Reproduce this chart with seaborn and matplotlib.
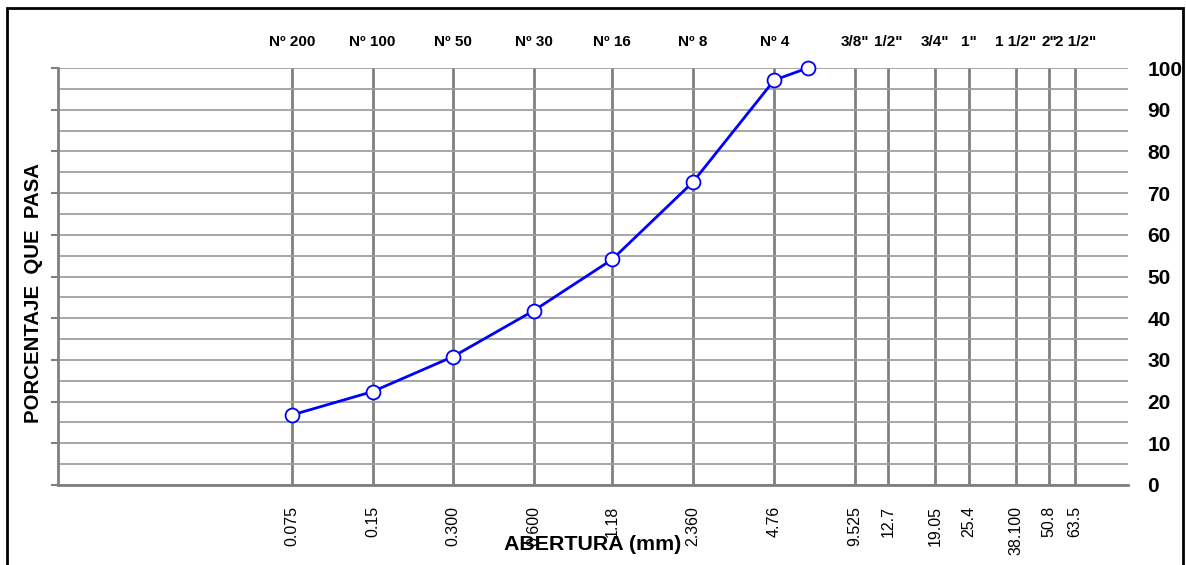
import matplotlib
matplotlib.use("Agg")
import matplotlib.pyplot as plt
import matplotlib.patches as mpatches
from matplotlib.ticker import FixedLocator, NullFormatter
import seaborn as sns
import pandas as pd

# ---- data ----
abertura_mm = [0.075, 0.15, 0.300, 0.600, 1.18, 2.360, 4.76, 6.35]
porcentaje_pasa = [16.8, 22.4, 30.8, 41.8, 54.1, 72.6, 97.1, 100.0]

tamiz_mm = [0.075, 0.15, 0.300, 0.600, 1.18, 2.360, 4.76,
            9.525, 12.7, 19.05, 25.4, 38.1, 50.8, 63.5]
tamiz_mm_labels = ["0.075", "0.15", "0.300", "0.600", "1.18", "2.360", "4.76",
                   "9.525", "12.7", "19.05", "25.4", "38.100", "50.8", "63.5"]
tamiz_nombres = ["Nº 200", "Nº 100", "Nº 50", "Nº 30", "Nº 16", "Nº 8", "Nº 4",
                 '3/8"', '1/2"', '3/4"', '1"', '1 1/2"', '2"', '2 1/2"']
y_ticks = [0, 10, 20, 30, 40, 50, 60, 70, 80, 90, 100]
y_minor = [5, 15, 25, 35, 45, 55, 65, 75, 85, 95]

df = pd.DataFrame({"abertura": abertura_mm, "pasa": porcentaje_pasa})

sns.set_style("white")
plt.rcParams["font.family"] = ["Liberation Sans", "DejaVu Sans"]
plt.rcParams["text.color"] = "black"
plt.rcParams["axes.labelcolor"] = "black"
plt.rcParams["xtick.labelcolor"] = "black"
plt.rcParams["ytick.labelcolor"] = "black"

W, H = 1186, 565
fig = plt.figure(figsize=(W / 100, H / 100), dpi=100)
L, R, T, B = 58, 1128, 68, 485
ax = fig.add_axes([L / W, 1 - B / H, (R - L) / W, (B - T) / H])

ax.set_xscale("log")
ax.set_xlim(0.01, 100)
ax.set_ylim(0, 100)

# grids
ax.xaxis.set_major_locator(FixedLocator(tamiz_mm))
ax.xaxis.set_minor_locator(FixedLocator([]))
ax.set_xticks(tamiz_mm, tamiz_mm_labels, rotation=90)
ax.xaxis.set_minor_formatter(NullFormatter())
ax.yaxis.set_major_locator(FixedLocator(y_ticks))
ax.yaxis.set_minor_locator(FixedLocator(y_minor))

ax.grid(True, axis="x", which="major", color="#808080", lw=2.0, zorder=1)
ax.grid(True, axis="y", which="both", color="#a0a0a0", lw=1.3, zorder=1)
ax.set_axisbelow(True)

sns.lineplot(data=df, x="abertura", y="pasa", ax=ax, color="#0000FF", lw=2.0,
             marker="o", markersize=10, markerfacecolor="white",
             markeredgecolor="#0000FF", markeredgewidth=1.3, zorder=5,
             clip_on=False)

# ticks
ax.tick_params(axis="x", which="both", length=0, pad=15, labelsize=11.5,
               labelcolor="black")
ax.tick_params(axis="y", which="major", left=True, right=False, length=5,
               width=1.5, color="#808080", labelleft=False, labelright=True,
               pad=9, labelsize=15, labelcolor="black")
ax.tick_params(axis="y", which="minor", left=False, right=False, length=0)
for lab in ax.get_yticklabels():
    lab.set_fontweight("bold")

for s in ["top", "right"]:
    ax.spines[s].set_visible(False)
for s in ["left", "bottom"]:
    ax.spines[s].set_color("#808080")
    ax.spines[s].set_linewidth(2)

# sieve names on top
for x, name in zip(tamiz_mm, tamiz_nombres):
    ax.annotate(name, xy=(x, 1.0), xycoords=("data", "axes fraction"),
                xytext=(0, 19), textcoords="offset points", ha="center",
                va="center", fontsize=11, fontweight="bold", color="black")

ax.set_xlabel("ABERTURA (mm)", fontsize=15.4, fontweight="bold", color="black")
ax.xaxis.set_label_coords(0.5, -(545 - B) / (B - T))
ax.xaxis.label.set_va("center")
ax.set_ylabel("PORCENTAJE  QUE  PASA", fontsize=14.7, fontweight="bold",
              color="black")
ax.yaxis.set_label_coords((34 - L) / (R - L), (B - 293) / (B - T))
ax.yaxis.label.set_va("center")

# outer frame
fig.patches.append(mpatches.Rectangle((7 / W, -0.01), (1183 - 7) / W,
                                      (H - 8) / H + 0.01,
                                      transform=fig.transFigure, fill=False,
                                      lw=2, edgecolor="black"))

fig.savefig("out.png", dpi=100)
